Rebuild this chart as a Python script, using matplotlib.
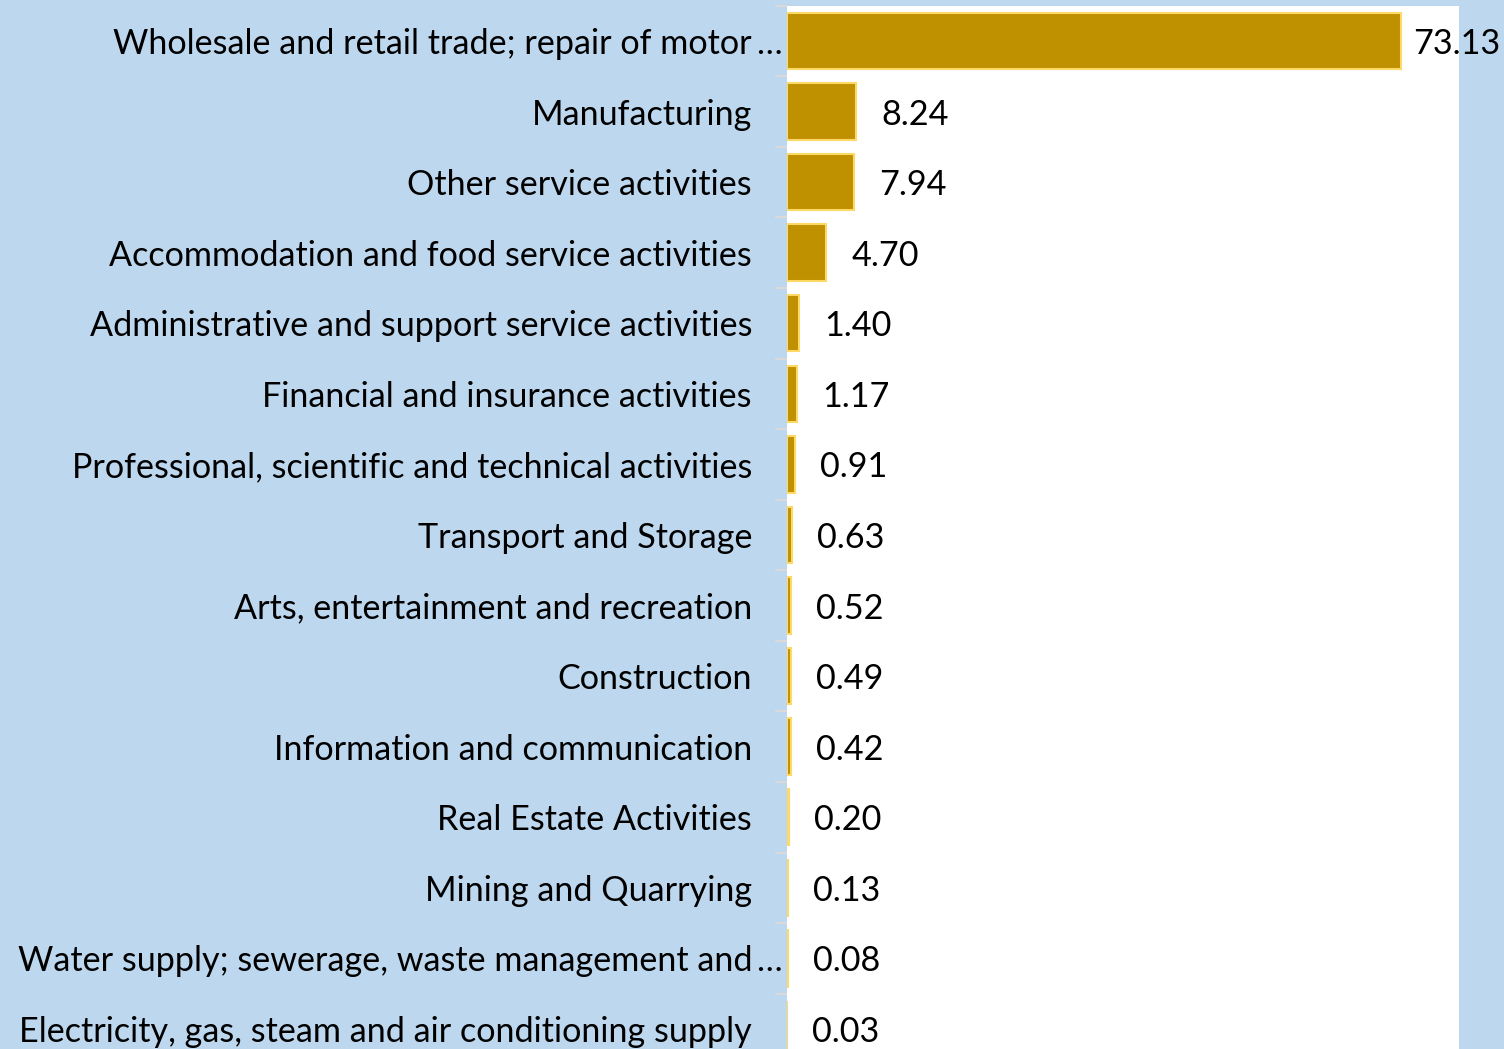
import matplotlib.pyplot as plt
from matplotlib.transforms import offset_copy
import numpy as np

# data, top to bottom as shown
sectors = [
    "Wholesale and retail trade; repair of motor",
    "Manufacturing",
    "Other service activities",
    "Accommodation and food service activities",
    "Administrative and support service activities",
    "Financial and insurance activities",
    "Professional, scientific and technical activities",
    "Transport and Storage",
    "Arts, entertainment and recreation",
    "Construction",
    "Information and communication",
    "Real Estate Activities",
    "Mining and Quarrying",
    "Water supply; sewerage, waste management and",
    "Electricity, gas, steam and air conditioning supply",
]
truncated = [True] + [False] * 12 + [True, False]
shares = [73.13, 8.24, 7.94, 4.70, 1.40, 1.17, 0.91, 0.63, 0.52, 0.49,
          0.42, 0.20, 0.13, 0.08, 0.03]

bg = "#BDD7EE"
bar_color = "#BF9000"
edge_color = "#FFD966"
font = "Lato"
fs = 24.6

W, H = 1504, 1049
fig = plt.figure(figsize=(W / 100, H / 100), dpi=100, facecolor=bg)
row = 70.57
top_px = 5.7
bottom_px = top_px + row * len(sectors)
ax = fig.add_axes([787 / W, 1 - bottom_px / H, (1459 - 787) / W, (bottom_px - top_px) / H])
ax.set_facecolor("white")

y = np.arange(len(sectors))
ax.barh(y, shares, height=0.8, color=bar_color, edgecolor=edge_color, linewidth=1.5)
ax.set_xlim(0, 80)
ax.set_ylim(len(sectors) - 0.5, -0.5)

for s in ax.spines.values():
    s.set_visible(False)
ax.set_xticks([])
ax.set_yticks([])
ax.set_yticks(np.arange(len(sectors) + 1) - 0.5, minor=True)
ax.tick_params(axis="y", which="minor", length=8.5, width=1.5, color="#D9D9D9",
               labelleft=False)

# category labels
for i, (name, cut) in enumerate(zip(sectors, truncated)):
    tr = offset_copy(ax.get_yaxis_transform(), fig=fig, x=-35, y=-3, units="dots")
    ax.text(0, i, name, transform=tr, ha="right", va="center", fontsize=fs,
            family=font, color="black")
    if cut:
        tr2 = offset_copy(ax.get_yaxis_transform(), fig=fig, x=-31, y=-3, units="dots")
        ax.text(0, i, "\u2026", transform=tr2, ha="left", va="center", fontsize=fs,
                family=font, color="black")

# value labels
fig.canvas.draw()
renderer = fig.canvas.get_renderer()
for i, v in enumerate(shares):
    tr = offset_copy(ax.transData, fig=fig, x=25, y=-3, units="dots")
    t = ax.text(v, i, f"{v:.2f}", transform=tr, ha="left", va="center", fontsize=fs,
                family=font, color="black", clip_on=False)
    ext = t.get_window_extent(renderer)
    if ext.x1 > W - 4:
        shift = ext.x1 - (W - 4)
        t.set_transform(offset_copy(ax.transData, fig=fig, x=25 - shift, y=-3, units="dots"))

fig.savefig("out.png", dpi=100, facecolor=bg)
